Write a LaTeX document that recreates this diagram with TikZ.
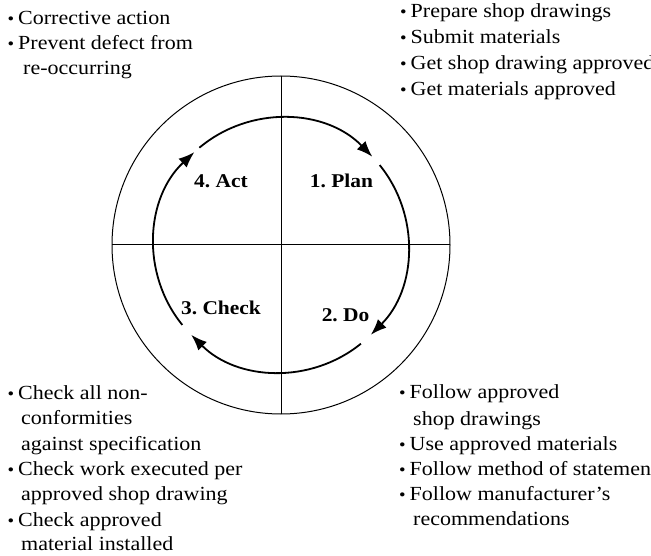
\documentclass[tikz,border=0pt]{standalone}
\usepackage{graphicx}
\usepackage{fontspec}
\setmainfont{Liberation Serif}[FakeStretch=1.1]
\usetikzlibrary{arrows.meta}
\frenchspacing
\newcommand\bul{\scalebox{0.85}{\textbullet}}
\newcommand\bi{\makebox[10.5pt][l]{\bul}}
\tikzset{
  txt/.style={anchor=base west, inner sep=0pt, font=\fontsize{20}{24}\selectfont},
  lab/.style={anchor=base, inner sep=0pt, font=\fontsize{19.5}{22}\selectfont\bfseries},
  thinline/.style={line width=1pt},
  cyc/.style={line width=1.8pt, -{Latex[length=16pt,width=12pt]}}
}
\begin{document}
\begin{tikzpicture}[x=1pt,y=1pt]
\useasboundingbox (0,0) rectangle (651,555);
\coordinate (C) at (281,310);
% outer ring and cross
\draw[thinline] (C) circle[radius=169];
\coordinate (L) at (112,310);
\coordinate (R) at (450,310);
\coordinate (T) at (281,479);
\coordinate (B) at (281,141);
\draw[thinline] (L) -- (R);
\draw[thinline] (T) -- (B);
% cycle arcs
\draw[cyc] ([shift={(130:127)}]C) arc[start angle=130, end angle=44, radius=127];
\draw[cyc] ([shift={(39:127)}]C) arc[start angle=39, end angle=-45, radius=127];
\draw[cyc] ([shift={(-51:127)}]C) arc[start angle=-51, end angle=-135, radius=127];
\draw[cyc] ([shift={(-141:127)}]C) arc[start angle=-141, end angle=-227, radius=127];
% quadrant labels
\node[lab] (act) at (221,367) {4. Act};
\node[lab] (plan) at (341.5,367) {1. Plan};
\node[lab] (check) at (221,240) {3. Check};
\node[lab] (do) at (345.6,233) {2. Do};
% top-left
\node[txt] (tl1) at (7.5,530) {\bi Corrective action};
\node[txt] (tl2) at (7.5,505) {\bi Prevent defect from};
\node[txt] (tl3) at (23,480.5) {re-occurring};
% top-right
\node[txt] (tr1) at (400,537) {\bi Prepare shop drawings};
\node[txt] (tr2) at (400,511) {\bi Submit materials};
\node[txt] (tr3) at (400,485) {\bi Get shop drawing approved};
\node[txt] (tr4) at (400,459) {\bi Get materials approved};
% bottom-left
\node[txt] (bl1) at (7.5,156) {\bi Check all non-};
\node[txt] (bl2) at (21,131) {conformities};
\node[txt] (bl3) at (21,105) {against specification};
\node[txt] (bl4) at (7.5,80) {\bi Check work executed per};
\node[txt] (bl5) at (21,55) {approved shop drawing};
\node[txt] (bl6) at (7.5,29) {\bi Check approved};
\node[txt] (bl7) at (21,5) {material installed};
% bottom-right
\node[txt] (br1) at (399,157) {\bi Follow approved};
\node[txt] (br2) at (413,130) {shop drawings};
\node[txt] (br3) at (399,105) {\bi Use approved materials};
\node[txt] (br4) at (399,80) {\bi Follow method of statement};
\node[txt] (br5) at (399,55) {\bi Follow manufacturer's};
\node[txt] (br6) at (413,30) {recommendations};
\end{tikzpicture}
\end{document}
